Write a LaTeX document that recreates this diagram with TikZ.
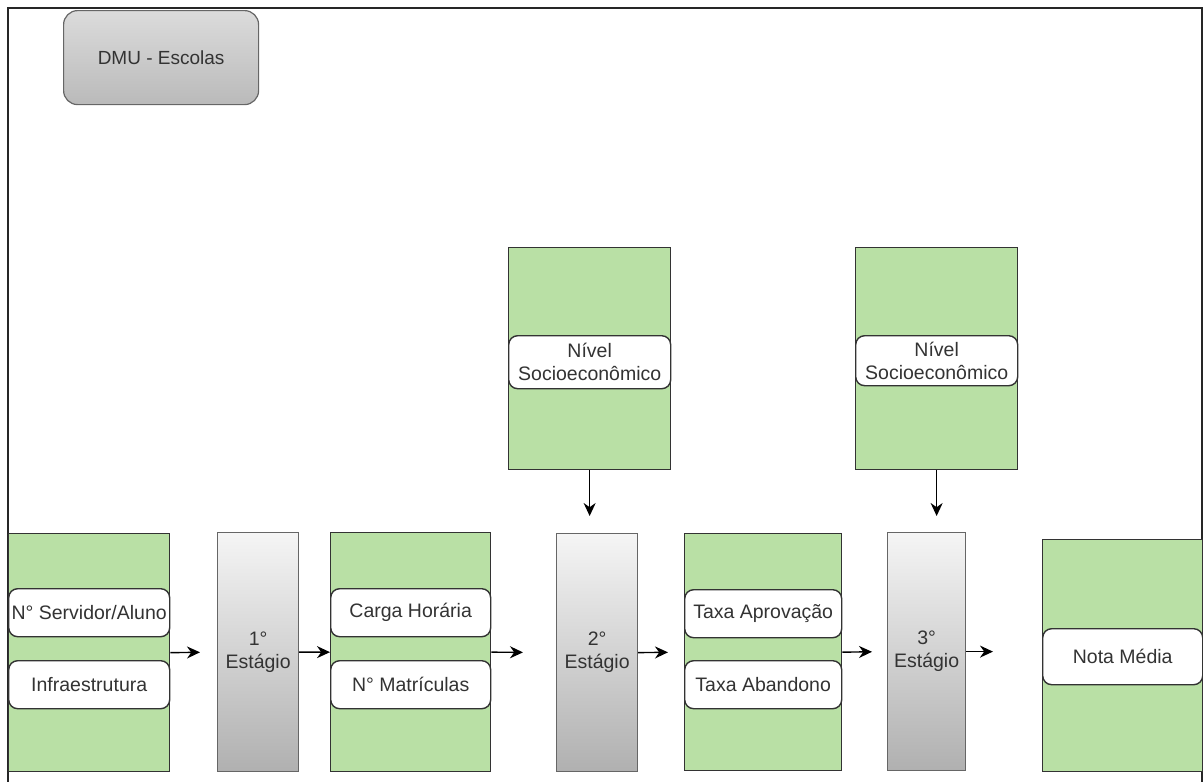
\documentclass[tikz,border=0pt]{standalone}
\usepackage{fontspec}
\setmainfont{Liberation Sans}
\usetikzlibrary{arrows.meta, calc}

\definecolor{grnfill}{HTML}{B9E0A5}
\definecolor{txtgray}{HTML}{333333}
\definecolor{stageline}{HTML}{666666}
\definecolor{stagetop}{HTML}{F5F5F5}
\definecolor{stagebot}{HTML}{B0B0B0}

\tikzset{
    varpanel/.style={draw=txtgray, fill=grnfill, anchor=north west, inner sep=0, line width=1.3},
    varlabel/.style={draw=txtgray, fill=white, rounded corners=9, anchor=north west, inner sep=0,
        line width=1.4, text=txtgray, align=center, font=\fontsize{19.5}{23}\selectfont},
    stagebox/.style={draw=stageline, top color=stagetop, bottom color=stagebot, anchor=north west,
        inner sep=0, line width=1.2, text=txtgray, align=center, font=\fontsize{19.5}{23}\selectfont},
    flow/.style={-{Stealth[length=13pt, width=12pt]}, line width=1.4, black}
}

\begin{document}
\begin{tikzpicture}[x=1pt, y=-1pt]
    \useasboundingbox (0,0) rectangle (1203,782);

    % frame
    \draw[line width=2.2, black!85] (8,782) -- (8,8) -- (1202,8) -- (1202,782);

    % DMU header
    \node[draw=stageline, top color=black!14, bottom color=black!27, rounded corners=14,
        anchor=north west, inner sep=0, minimum width=195, minimum height=94, line width=1.2,
        text=txtgray, font=\fontsize{19}{23}\selectfont] (dmu) at (63,10) {DMU - Escolas};

    % input panel
    \node[varpanel, minimum width=161, minimum height=238] (inA) at (8,533) {};
    \node[varlabel, minimum width=161, minimum height=48] (srv) at (8,588) {N° Servidor/Aluno};
    \node[varlabel, minimum width=161, minimum height=48] (infra) at (8,660) {Infraestrutura};

    % stage 1
    \node[stagebox, minimum width=81, minimum height=239] (est1) at (217,532) {1°\\Estágio};

    % intermediate panel
    \node[varpanel, minimum width=160, minimum height=239] (midB) at (330,532) {};
    \node[varlabel, minimum width=160, minimum height=48] (carga) at (330,588) {Carga Horária};
    \node[varlabel, minimum width=160, minimum height=48] (matr) at (330,660) {N° Matrículas};

    % stage 2 with context
    \node[stagebox, minimum width=81, minimum height=238] (est2) at (556,533) {2°\\Estágio};
    \node[varpanel, minimum width=162, minimum height=222] (ctxA) at (508,247) {};
    \node[varlabel, minimum width=162, minimum height=53] (nse1) at (508,335) {Nível\\Socioeconômico};

    % output panel of stage 2
    \node[varpanel, minimum width=157, minimum height=237] (outC) at (684,533) {};
    \node[varlabel, minimum width=157, minimum height=48] (aprov) at (684,589) {Taxa Aprovação};
    \node[varlabel, minimum width=157, minimum height=48] (aband) at (684,660) {Taxa Abandono};

    % stage 3 with context
    \node[stagebox, minimum width=78, minimum height=238] (est3) at (887,532) {3°\\Estágio};
    \node[varpanel, minimum width=162, minimum height=222] (ctxB) at (855,247) {};
    \node[varlabel, minimum width=162, minimum height=50] (nse2) at (855,335) {Nível\\Socioeconômico};

    % final panel
    \node[varpanel, minimum width=160, minimum height=232] (finD) at (1042,539) {};
    \node[varlabel, minimum width=160, minimum height=56] (nota) at (1042,628) {Nota Média};

    % flow arrows
    \draw[flow, shorten >=17] (inA.east) -- (est1.west);
    \draw[flow] (est1.east) -- (midB.west);
    \draw[flow, shorten >=33] (midB.east) -- (est2.west);
    \draw[flow, shorten >=16] (est2.east) -- (outC.west);
    \draw[flow, shorten >=15] (outC.east) -- (est3.west);
    \draw[flow, shorten >=49] (est3.east) -- (finD.west |- est3.east);
    \draw[flow, shorten >=17] (ctxA.south) -- (ctxA.south |- est2.north);
    \draw[flow, shorten >=16] (ctxB.south) -- (ctxB.south |- est3.north);
\end{tikzpicture}
\end{document}
